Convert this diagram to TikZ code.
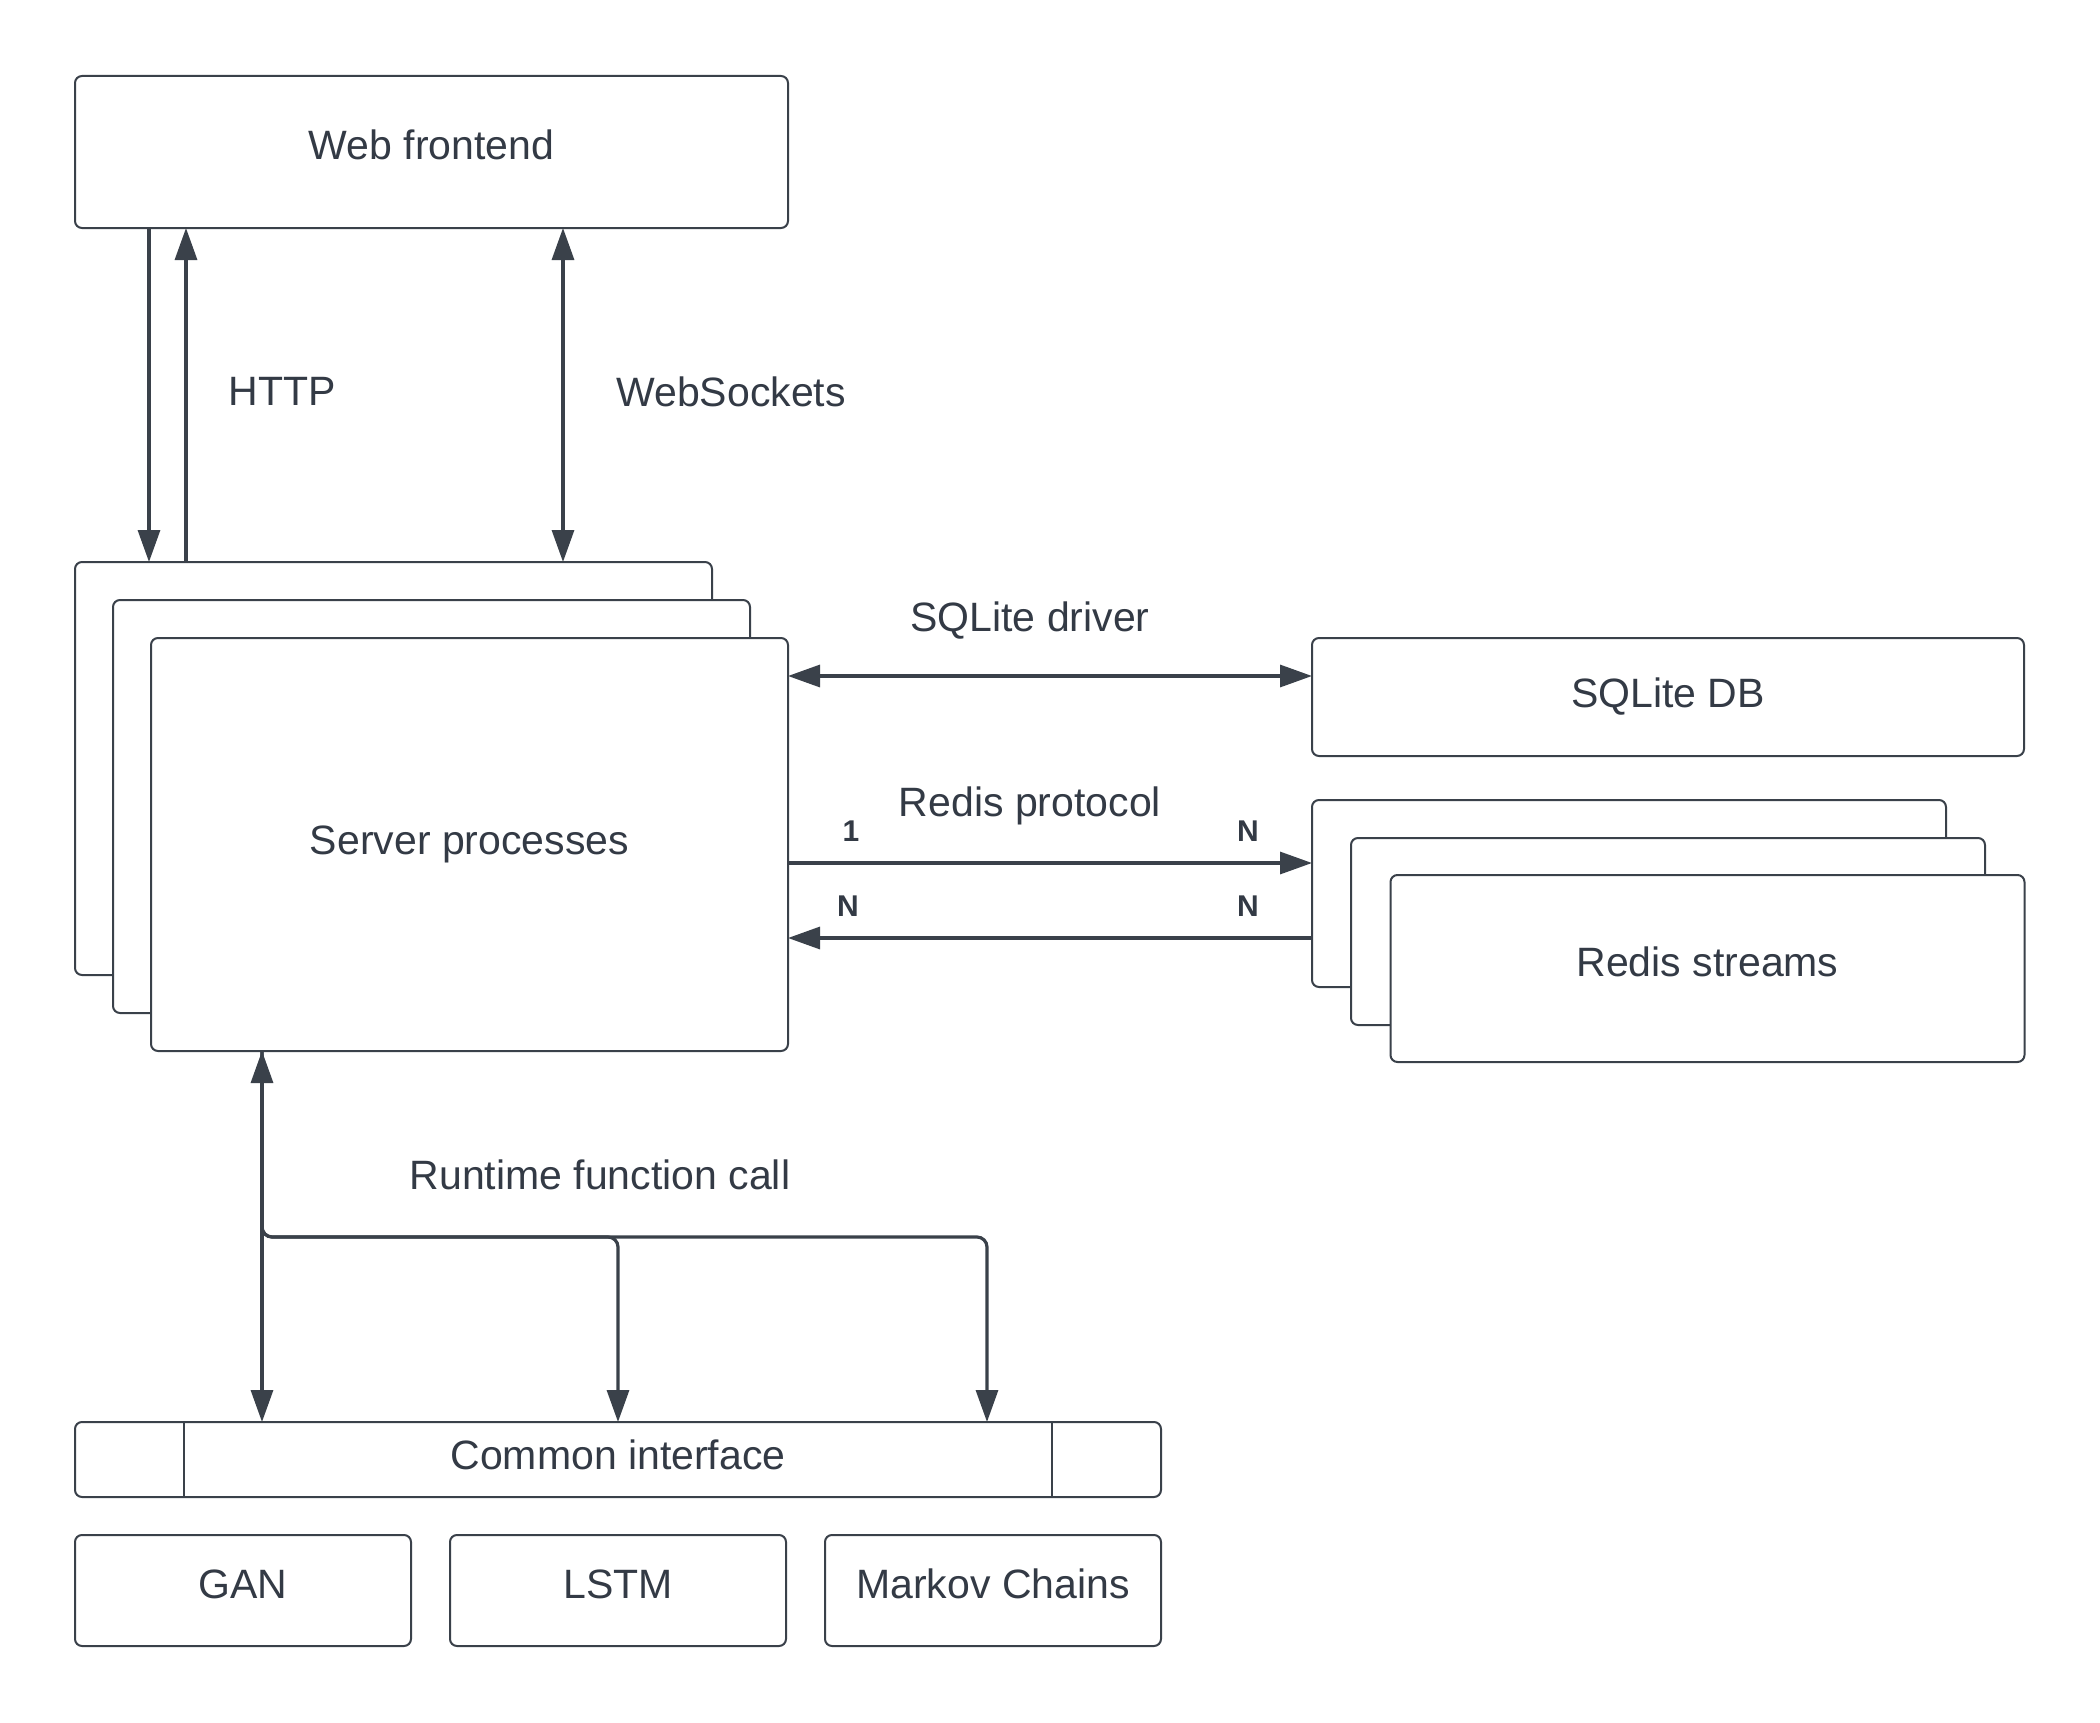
\documentclass[tikz,border=0pt]{standalone}
\usepackage{fontspec}
\setmainfont{Liberation Sans}
\usetikzlibrary{arrows.meta}
\definecolor{ink}{HTML}{3A414A}
\definecolor{txt}{HTML}{333A45}
\begin{document}
\begin{tikzpicture}[x=0.5pt,y=-0.5pt,
  >={Triangle[length=16pt,width=11pt]},
  box/.style={draw=ink, line width=1pt, rounded corners=3.5pt, fill=white, inner sep=0pt, outer sep=0pt,
    font=\fontsize{20.5pt}{24pt}\selectfont, text=txt, text height=14.7pt, text depth=7pt, align=center},
  lbl/.style={inner sep=0pt, font=\fontsize{20.5pt}{24pt}\selectfont, text=txt, text height=14.7pt, text depth=0pt},
  card/.style={inner sep=0pt, font=\bfseries\fontsize{15pt}{18pt}\selectfont, text=txt, text height=10.7pt, text depth=0pt},
  conn/.style={draw=ink, line width=1.6pt},
  divider/.style={draw=ink, line width=1pt}
]
\useasboundingbox (0,0) rectangle (2100,1723);
\fill[white] (0,0) rectangle (2100,1723);

% boxes
\node[box, minimum width=356.5pt, minimum height=76pt] (web) at (431.5,152) {Web frontend};
\node[box, minimum width=318.5pt, minimum height=206.5pt] (srv3) at (393.5,768.5) {};
\node[box, minimum width=318.5pt, minimum height=206.5pt] (srv2) at (431.5,806.5) {};
\node[box, minimum width=318.5pt, minimum height=206.5pt, text depth=5pt] (srv1) at (469.5,844.5) {Server processes};
\node[box, minimum width=356pt, minimum height=59pt, text depth=4pt] (sqlite) at (1668,697) {SQLite DB};
\node[box, minimum width=317pt, minimum height=93.5pt] (redis3) at (1629,893.5) {};
\node[box, minimum width=317pt, minimum height=93.5pt] (redis2) at (1668,931.5) {};
\node[box, minimum width=317pt, minimum height=93.5pt] (redis1) at (1707.5,968.5) {Redis streams};
\node[box, minimum width=543pt, minimum height=37.5pt, text depth=5pt] (common) at (618,1459.5) {Common interface};
\draw[divider] ([xshift=54.5pt]common.north west) -- ([xshift=54.5pt]common.south west);
\draw[divider] ([xshift=-54.5pt]common.north east) -- ([xshift=-54.5pt]common.south east);
\node[box, minimum width=168pt, minimum height=55.5pt] (gan) at (243,1590.5) {GAN};
\node[box, minimum width=168pt, minimum height=55.5pt] (lstm) at (618,1590.5) {LSTM};
\node[box, minimum width=168pt, minimum height=55.5pt] (markov) at (993,1590.5) {Markov Chains};

% helper coordinates
\coordinate (xa) at (149,0);
\coordinate (xb) at (186,0);
\coordinate (xc) at (563,0);
\coordinate (xd) at (262,0);
\coordinate (xe) at (618,0);
\coordinate (xf) at (987,0);
\coordinate (ya) at (0,676);
\coordinate (yb) at (0,863);
\coordinate (yc) at (0,938);
\coordinate (yd) at (0,1237);

% connectors
\draw[conn,->] (web.south -| xa) -- (srv3.north -| xa);
\draw[conn,->] (srv3.north -| xb) -- (web.south -| xb);
\draw[conn,<->] (web.south -| xc) -- (srv3.north -| xc);
\draw[conn,<->] (srv1.east |- ya) -- (sqlite.west |- ya);
\draw[conn,->] (srv1.east |- yb) -- (redis3.west |- yb);
\draw[conn,->] (redis3.west |- yc) -- (srv1.east |- yc);
\draw[conn,<->] (srv1.south -| xd) -- (common.north -| xd);
\draw[conn,->,rounded corners=5pt] (srv1.south -| xd) |- (yd -| xe) -- (common.north -| xe);
\draw[conn,->,rounded corners=5pt] (srv1.south -| xd) |- (yd -| xf) -- (common.north -| xf);

% labels
\node[lbl] (lhttp) at (282,391) {HTTP};
\node[lbl] (lws) at (731,392) {WebSockets};
\node[lbl] (lsql) at (1030,617) {SQLite driver};
\node[lbl] (lredis) at (1030,802) {Redis protocol};
\node[card] (c1) at (851,831) {1};
\node[card] (c2) at (1248,831) {N};
\node[card] (c3) at (848,906) {N};
\node[card] (c4) at (1248,906) {N};
\node[lbl] (lrt) at (600,1175) {Runtime function call};
\end{tikzpicture}
\end{document}
